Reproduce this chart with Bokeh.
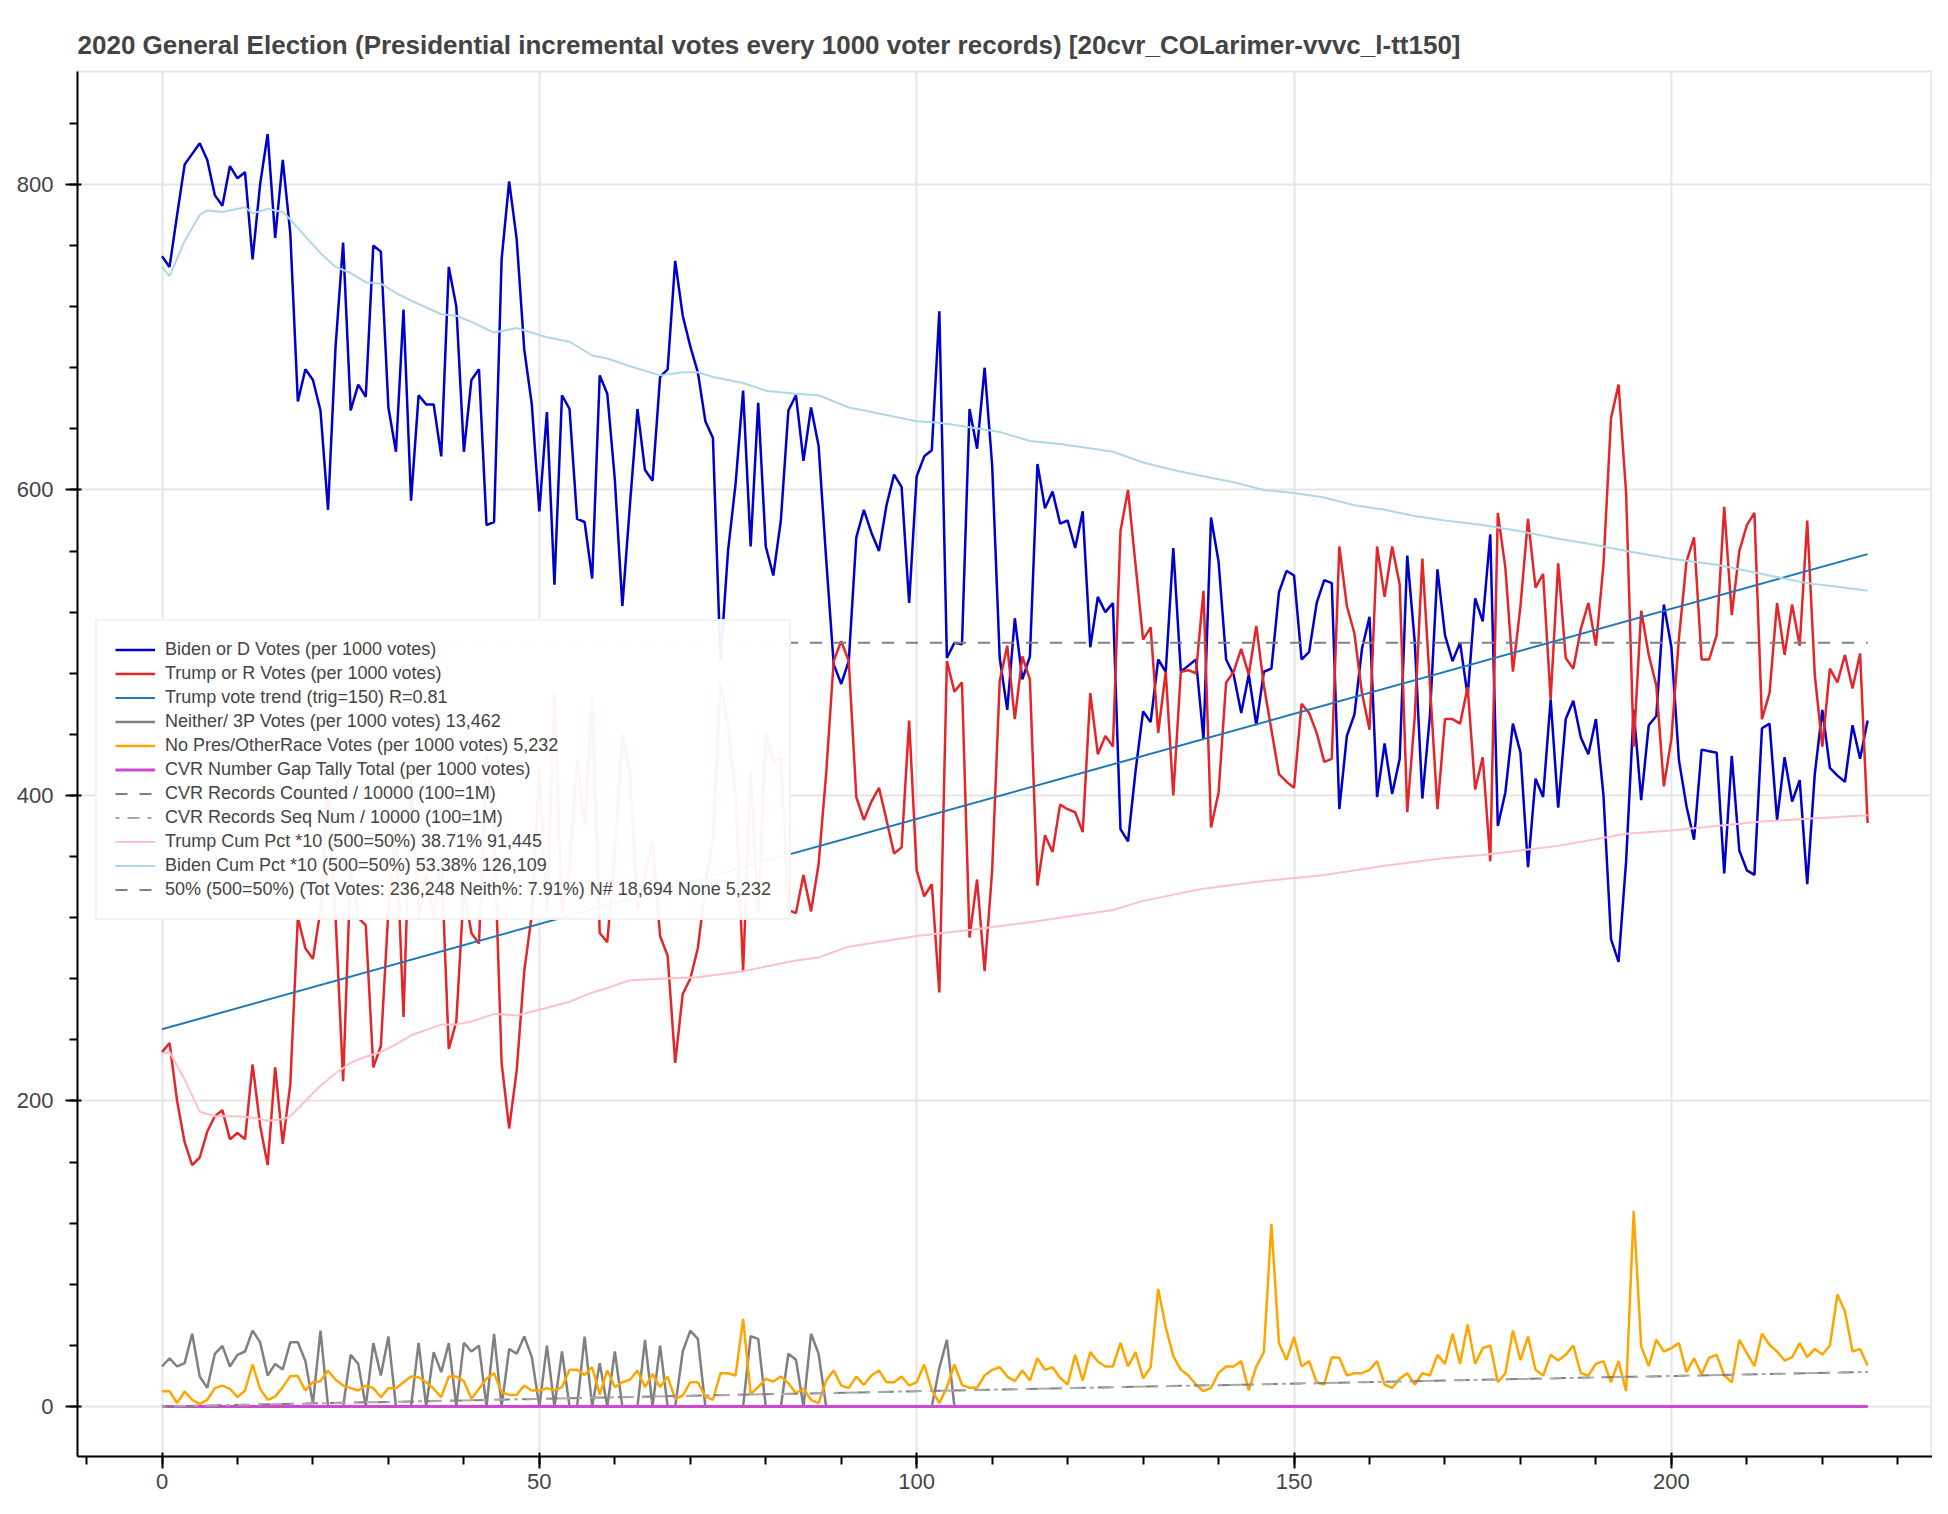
from bokeh.plotting import figure
from bokeh.models import Range1d, Legend
from bokeh.embed import file_html
from bokeh.resources import INLINE

# ---------------- data ----------------
biden = [753, 746, 780, 813, 820, 827, 816, 793, 786, 812, 804, 808, 751, 800, 833, 765, 816, 768, 658, 679,
         672, 652, 587, 694, 762, 652, 669, 661, 760, 756, 654, 625, 718, 593, 662, 656, 656, 622, 746, 720,
         625, 672, 679, 577, 579, 751, 802, 764, 692, 656, 586, 651, 538, 662, 653, 581, 579, 542, 675, 663,
         607, 524, 590, 653, 613, 606, 674, 679, 750, 714, 694, 677, 645, 634, 488, 560, 604, 665, 563, 657,
         563, 544, 580, 652, 662, 619, 654, 629, 555, 486, 473, 488, 569, 587, 572, 560, 590, 610, 602, 526,
         609, 622, 626, 717, 490, 500, 499, 653, 627, 680, 616, 490, 456, 516, 476, 491, 617, 588, 599, 578,
         580, 562, 586, 497, 530, 520, 526, 378, 370, 416, 455, 448, 489, 481, 562, 481, 485, 489, 437, 582,
         553, 489, 479, 454, 479, 446, 481, 483, 533, 547, 544, 489, 494, 526, 541, 539, 391, 439, 453, 496,
         517, 399, 434, 401, 424, 557, 500, 398, 452, 548, 505, 488, 500, 465, 529, 514, 571, 380, 402, 447,
         428, 353, 411, 399, 463, 392, 450, 462, 438, 427, 450, 400, 306, 291, 357, 456, 397, 446, 452, 525,
         497, 423, 393, 371, 430, 429, 428, 349, 426, 364, 351, 348, 444, 447, 384, 425, 396, 410, 342, 414,
         456, 418, 413, 409, 446, 424, 449]

trump = [232, 238, 200, 173, 158, 163, 180, 190, 194, 175, 179, 175, 224, 184, 158, 222, 172, 211, 320, 300,
         293, 325, 405, 320, 213, 353, 320, 315, 222, 236, 325, 380, 255, 412, 320, 349, 320, 361, 234, 252,
         339, 310, 303, 427, 378, 225, 182, 220, 285, 322, 418, 322, 467, 322, 352, 424, 380, 463, 310, 304,
         362, 440, 415, 325, 348, 370, 308, 295, 225, 270, 280, 300, 340, 371, 474, 445, 400, 285, 416, 323,
         442, 422, 425, 325, 323, 348, 324, 355, 414, 488, 501, 488, 399, 384, 396, 405, 384, 362, 366, 449,
         351, 334, 342, 271, 488, 468, 474, 307, 345, 285, 351, 475, 498, 450, 491, 476, 341, 374, 363, 394,
         391, 389, 376, 467, 427, 439, 432, 573, 600, 551, 502, 510, 441, 481, 400, 481, 482, 480, 534, 379,
         402, 474, 481, 496, 479, 511, 472, 443, 414, 409, 405, 460, 454, 441, 422, 424, 563, 524, 506, 467,
         443, 563, 530, 563, 538, 389, 452, 555, 473, 391, 450, 450, 447, 471, 404, 425, 357, 585, 549, 481,
         524, 581, 536, 545, 463, 552, 490, 483, 509, 526, 498, 551, 647, 669, 598, 432, 521, 492, 472, 406,
         437, 503, 553, 569, 489, 489, 505, 589, 518, 560, 577, 585, 450, 467, 526, 492, 525, 498, 580, 479,
         432, 483, 474, 492, 470, 493, 382]

neither = [26.2, 31.6, 26.2, 28.4, 47.6, 19.6, 12.2, 34.5, 39.7, 26.2, 33.8, 36, 49.7, 42.1, 20.3, 27.9, 24.2, 42.1, 42.1, 29.7,
           1.7, 49.7, 0, 0, 0, 33.8, 27.9, 0, 41.5, 20.3, 45.8, 0, 0, 0, 41.7, 0, 35.6, 22.5, 41.5, 0,
           41.7, 36, 39.9, 0, 47.6, 0, 37.7, 34.5, 45.8, 32.3, 0, 39.9, 0, 36, 0, 0, 45.8, 0, 28.4, 0,
           36, 0, 0, 0, 43.6, 0, 39.9, 0, 0, 36, 49.7, 44.3, 0, 0, 0, 0, 0, 0, 46, 44.3,
           0, 0, 0, 34.5, 30.6, 0, 47.6, 34.5, 0, 0, 0, 0, 0, 0, 0, 0, 0, 0, 0, 0,
           0, 0, 0, 25.3, 43.6] + [0] * 122

nopres = [10, 10, 2.2, 9.8, 4.4, 1.7, 4.4, 12, 13.7, 11.6, 6.1, 10.5, 27.5, 11.6, 4.4, 6.5, 12.7, 19.9, 19.9, 10.5,
          15.9, 16.6, 23.6, 17.5, 13.7, 12, 10.5, 13.7, 12, 6.1, 12, 12, 15.9, 19.6, 19.2, 15.9, 11.6, 6.1, 19.6, 19.6,
          16.6, 5, 11.6, 18.1, 21.8, 9.4, 7.6, 7.6, 13.7, 10.5, 10.5, 12, 10.5, 12.7, 24, 24, 20.7, 25.7, 7.9, 23.6,
          12.7, 15.9, 17.5, 23.6, 12.7, 21.4, 12.7, 19.6, 5, 7.2, 15.9, 15.9, 6.5, 4.4, 21.8, 21.8, 20.3, 57.4, 8.3, 12.7,
          18.1, 16.4, 19.6, 15.3, 8.7, 11.6, 4.4, 2.2, 17, 23.6, 13.7, 12, 19.6, 14.2, 20.3, 23.6, 15.9, 15.9, 19.6, 13.7,
          15.9, 27.5, 10.9, 2.2, 12.7, 27.5, 14.2, 12.2, 12.2, 20.3, 24, 25.7, 19.6, 16.6, 23.6, 17, 31.6, 24, 25.7, 18.8,
          14.4, 33.8, 17, 35.6, 29.5, 26.2, 26.2, 41.7, 26.2, 35.6, 18.5, 25.7, 77, 52, 33, 24, 20.3, 14.4, 10, 12.2,
          22, 26.2, 26.2, 29.7, 10.5, 26.2, 35.6, 119.6, 41.5, 30.5, 45.4, 26.2, 29.7, 15.9, 14.4, 32.3, 31.9, 20.3, 21.8, 21.8,
          24, 29.7, 14.4, 12.2, 18.1, 21.8, 14.4, 21.8, 20.3, 33.8, 27.9, 47.6, 27.9, 53.7, 27.9, 38.2, 39.9, 15.9, 21.8, 49.7,
          30.3, 45.8, 24, 20.3, 33.8, 30.1, 33.8, 39.9, 21.8, 20.3, 27.9, 29.7, 15.9, 29.7, 10, 127.9, 39.3, 26.4, 43.6, 36,
          38.2, 41.5, 22.5, 31.6, 20.9, 31.9, 33.8, 20.3, 15.9, 43.6, 34.9, 26.4, 47.6, 40.4, 36, 30.1, 32.3, 41.5, 32.3, 37.7,
          34, 39.9, 73.3, 62.2, 36, 37.7, 26.8]

idx = list(range(len(biden)))

trend_x = [0, 226]
trend_y = [247, 558]

gap_x = [0, 226]
gap_y = [0, 0]

cvr_x = [0, 226]
cvr_y = [0, 22.6]

half_x = [0, 226]
half_y = [500, 500]

trump_cum_x = [0, 1, 3, 5, 7, 10, 12, 14, 16, 17, 19, 21, 23, 25, 27, 29, 31, 33, 37, 39, 41, 44, 47, 51, 54, 57,
               59, 62, 66, 71, 77, 84, 87, 91, 100, 107, 115, 119, 126, 130, 138, 146, 154, 162, 170, 175, 185,
               194, 200, 212, 226]
trump_cum_y = [231, 232, 214, 193, 190, 190, 189, 187, 188, 190, 200, 210, 218, 225, 229, 232, 237, 243, 250, 250,
               252, 257, 256, 261, 265, 271, 274, 279, 280, 281, 285, 292, 294, 301, 308, 312, 317, 320, 325, 331,
               339, 344, 348, 354, 359, 361, 367, 375, 377, 383, 387]

biden_cum_x = [0, 1, 3, 5, 6, 8, 11, 12, 14, 16, 17, 19, 21, 23, 25, 27, 29, 31, 33, 37, 39, 41, 44, 47, 51, 54, 57,
               59, 62, 66, 69, 71, 73, 77, 80, 84, 87, 91, 95, 100, 103, 107, 111, 115, 119, 122, 126, 130, 134,
               138, 142, 146, 150, 154, 158, 162, 166, 170, 175, 180, 185, 190, 194, 200, 206, 212, 218, 223, 226]
biden_cum_y = [746, 740, 763, 780, 783, 782, 785, 781, 784, 782, 777, 766, 755, 746, 742, 736, 735, 729, 724, 715,
               714, 710, 703, 706, 700, 697, 688, 686, 681, 675, 677, 677, 674, 670, 665, 663, 662, 654, 650, 645,
               644, 641, 638, 632, 630, 628, 625, 618, 613, 609, 605, 600, 598, 595, 590, 587, 583, 580, 577, 573,
               568, 564, 560, 555, 551, 545, 539, 536, 534]

labels = [
    "Biden or D Votes (per 1000 votes)",
    "Trump or R Votes (per 1000 votes)",
    "Trump vote trend (trig=150) R=0.81",
    "Neither/ 3P Votes (per 1000 votes) 13,462",
    "No Pres/OtherRace Votes (per 1000 votes) 5,232",
    "CVR Number Gap Tally Total (per 1000 votes)",
    "CVR Records Counted / 10000 (100=1M)",
    "CVR Records Seq Num / 10000 (100=1M)",
    "Trump Cum Pct *10 (500=50%) 38.71% 91,445",
    "Biden Cum Pct *10 (500=50%) 53.38% 126,109",
    "50% (500=50%) (Tot Votes: 236,248 Neith%: 7.91%) N# 18,694 None 5,232",
]
title_text = ("2020 General Election (Presidential incremental votes every 1000 voter records) "
              "[20cvr_COLarimer-vvvc_l-tt150]")

# ---------------- figure ----------------
FONT = "Liberation Sans"
W, H = 1932, 1498
BL, BR, BT, BB = 77, 0, 71, 42
# frame position inside the figure
frame_left, frame_right = BL, W - BR
frame_top, frame_bottom = BT, H - BB
# reference mapping: x=0 -> 161.5 px, 7.547 px/unit ; y=0 -> 1406 px, 1.5276 px/unit
x0 = (frame_left - 161.5) / 7.547
x1 = (frame_right - 161.5) / 7.547
y0 = (1406 - frame_bottom) / 1.5276
y1 = (1406 - frame_top) / 1.5276

p = figure(width=W, height=H, output_backend="svg", toolbar_location=None,
           x_range=Range1d(x0, x1), y_range=Range1d(y0, y1),
           min_border_left=BL, min_border_right=BR, min_border_top=BT, min_border_bottom=BB,
           title=title_text)
p.title.text_font = FONT
p.title.text_font_size = "26px"
p.title.text_font_style = "bold"
p.title.text_color = "#444444"
p.title.standoff = 23

p.outline_line_color = "#e5e5e5"
p.outline_line_width = 2
for g in (p.xgrid, p.ygrid):
    g.grid_line_color = "#e5e5e5"
    g.grid_line_width = 2
for ax in (p.xaxis, p.yaxis):
    ax.axis_line_width = 2
    ax.major_tick_line_width = 2
    ax.minor_tick_line_width = 2
    ax.major_tick_out = 12
    ax.major_tick_in = 4
    ax.minor_tick_out = 8
    ax.minor_tick_in = 0
    ax.major_label_text_font = FONT
    ax.major_label_text_font_size = "22px"
    ax.major_label_text_color = "#444444"
p.xaxis.major_label_standoff = 5
p.yaxis.major_label_standoff = 12

r_b = p.line(idx, biden, line_color="mediumblue", line_width=2.5)
r_t = p.line(idx, trump, line_color="#e3262a", line_width=2.5)
r_tr = p.line(trend_x, trend_y, line_color="#1f77b4", line_width=2)
r_n = p.line(idx, neither, line_color="grey", line_width=2.5)
r_o = p.line(idx, nopres, line_color="orange", line_width=2.5)
r_g = p.line(gap_x, gap_y, line_color="#d048d0", line_width=3)
r_c = p.line(cvr_x, cvr_y, line_color="grey", line_width=2, line_dash="12 12")
r_s = p.line(cvr_x, cvr_y, line_color="darkgrey", line_width=2, line_dash="4 8 12 8")
r_tc = p.line(trump_cum_x, trump_cum_y, line_color="pink", line_width=2)
r_bc = p.line(biden_cum_x, biden_cum_y, line_color="lightblue", line_width=2)
r_h = p.line(half_x, half_y, line_color="grey", line_width=2, line_dash="12 12")

renderers = [r_b, r_t, r_tr, r_n, r_o, r_g, r_c, r_s, r_tc, r_bc, r_h]
legend = Legend(items=[(lab, [r]) for lab, r in zip(labels, renderers)],
                location=(18, frame_bottom - 920))
legend.label_text_font = FONT
legend.label_text_font_size = "18px"
legend.label_text_color = "#444444"
legend.glyph_width = 40
legend.glyph_height = 21
legend.label_height = 21
legend.label_standoff = 10
legend.spacing = 3
legend.padding = 18
legend.margin = 0
legend.border_line_color = "#e5e5e5"
legend.border_line_width = 2
legend.background_fill_alpha = 0.95
p.add_layout(legend, "center")

open("out.html", "w").write(file_html(p, INLINE))
